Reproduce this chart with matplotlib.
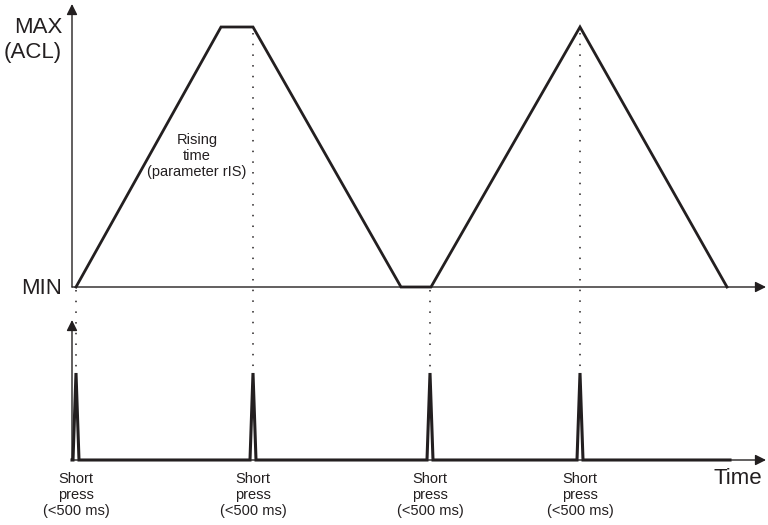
import matplotlib.pyplot as plt

plt.rcParams["font.family"] = ["Liberation Sans", "DejaVu Sans"]

INK = "#231f20"

# ramp of the output (top panel), time in px-like units, level 0=MIN 1=MAX
ramp_t = [76, 221, 253, 401, 431, 580, 727]
ramp_level = [0, 1, 1, 0, 0, 1, 0]

# short key presses (bottom panel)
press_t = [76, 253, 430, 580]
press_labels = ["Short\npress\n(<500 ms)"] * 4
press_half_width = 3
signal_end = 730

# panel geometry (pixel rows)
top_base, top_peak = 287, 27
bot_base, bot_peak = 460, 373
axis_x = 72


def top_y(level):
    return top_base - level * (top_base - top_peak)


def bot_y(level):
    return bot_base - level * (bot_base - bot_peak)


fig = plt.figure(figsize=(7.68, 5.25), dpi=100)
ax = fig.add_axes([0, 0, 1, 1])
ax.set_xlim(0, 768)
ax.set_ylim(525, 0)
ax.axis("off")

arrow = dict(arrowstyle="-|>", color=INK, lw=1.0, mutation_scale=16, shrinkA=0, shrinkB=0)

# axes with arrow heads
ax.annotate("", xy=(axis_x, 4), xytext=(axis_x, top_base), arrowprops=arrow)
ax.annotate("", xy=(766, top_base), xytext=(axis_x, top_base), arrowprops=arrow)
ax.annotate("", xy=(axis_x, 320), xytext=(axis_x, bot_base), arrowprops=arrow)
ax.annotate("", xy=(766, bot_base), xytext=(axis_x, bot_base), arrowprops=arrow)

# ramp signal
ax.plot(ramp_t, [top_y(v) for v in ramp_level], color=INK, lw=2.0,
        solid_joinstyle="miter")

# press signal
xs, ys = [axis_x], [bot_y(0)]
for t in press_t:
    xs += [t - press_half_width, t, t + press_half_width]
    ys += [bot_y(0), bot_y(1), bot_y(0)]
xs.append(signal_end)
ys.append(bot_y(0))
ax.plot(xs, ys, color=INK, lw=2.2, solid_joinstyle="miter")

# dotted guides from ramp events down to presses
for t in press_t:
    at_peak = t in ramp_t and ramp_level[ramp_t.index(t)] == 1
    start = top_y(1) + 6 if at_peak else top_base + 3
    ax.plot([t, t], [start, bot_y(1) - 2], color=INK, lw=1.1,
            linestyle=(0, (1, 6)))

# labels
ax.text(62, 40, "MAX\n(ACL)", ha="right", va="center", fontsize=16,
        color=INK, linespacing=1.2)
ax.text(62, 288, "MIN", ha="right", va="center", fontsize=16, color=INK)
ax.text(762, 478, "Time", ha="right", va="center", fontsize=16, color=INK)
ax.text(197, 156, "Rising\ntime\n(parameter rIS)", ha="center", va="center",
        fontsize=10.5, color=INK, linespacing=1.15)

for t, lab in zip(press_t, press_labels):
    ax.text(t, 495, lab, ha="center", va="center", fontsize=10.5,
            color=INK, linespacing=1.15)

fig.savefig("out.png", dpi=100)
